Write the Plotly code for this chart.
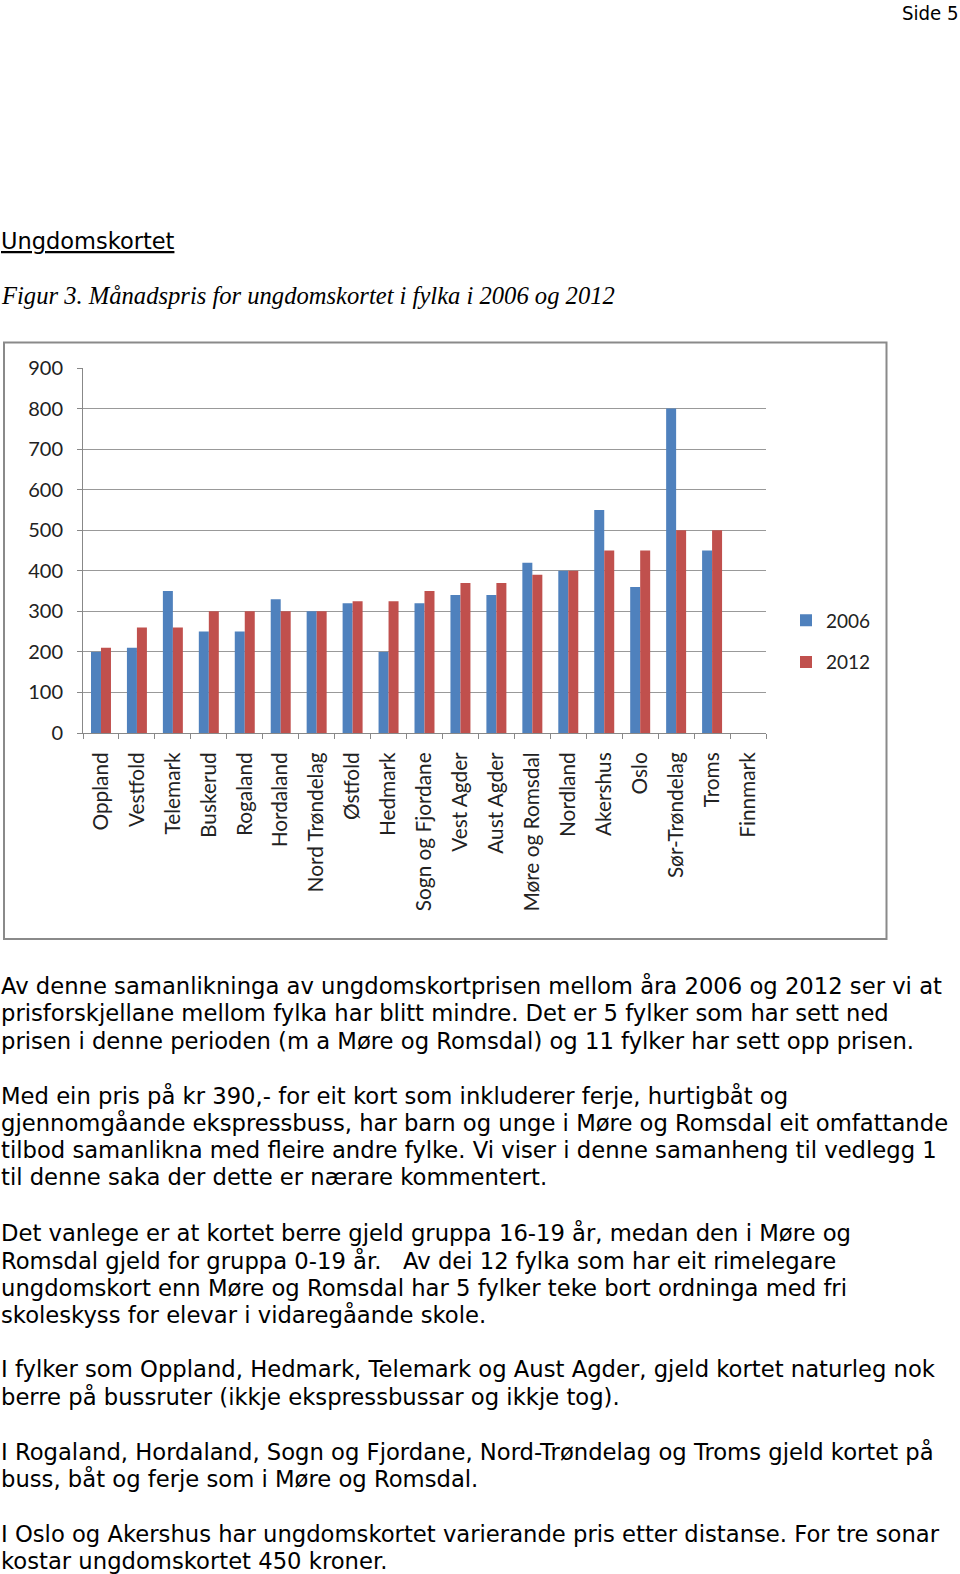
import plotly.graph_objects as go

counties = ["Oppland", "Vestfold", "Telemark", "Buskerud", "Rogaland", "Hordaland",
            "Nord Trøndelag", "Østfold", "Hedmark", "Sogn og Fjordane", "Vest Agder",
            "Aust Agder", "Møre og Romsdal", "Nordland", "Akershus", "Oslo",
            "Sør-Trøndelag", "Troms", "Finnmark"]
price_2006 = [200, 210, 350, 250, 250, 330, 300, 320, 200, 320, 340, 340, 420, 400, 550, 360, 800, 450, None]
price_2012 = [210, 260, 260, 300, 300, 300, 300, 325, 325, 350, 370, 370, 390, 400, 450, 450, 500, 500, None]
y_ticks = [0, 100, 200, 300, 400, 500, 600, 700, 800, 900]

W, H = 960, 1574

def py(px):
    return 1 - px / H

def px_x(px):
    return px / W

fig = go.Figure()
fig.add_trace(go.Bar(name="2006", x=counties, y=price_2006, marker_color="#4F81BD",
                     marker_line_width=0, legendgroup="a"))
fig.add_trace(go.Bar(name="2012", x=counties, y=price_2012, marker_color="#C0504D",
                     marker_line_width=0, legendgroup="b"))

chart_font = "Lato, 'Open Sans', sans-serif"
body_font = "'DejaVu Sans', Verdana, sans-serif"

fig.update_layout(
    width=W, height=H,
    margin=dict(l=0, r=0, t=0, b=0, autoexpand=False),
    paper_bgcolor="white", plot_bgcolor="white",
    barmode="group", bargap=0.444, bargroupgap=0,
    showlegend=True,
    legend=dict(x=px_x(786), y=py(601.5), xanchor="left", yanchor="top",
                font=dict(family=chart_font, size=19, color="#222"),
                itemwidth=30,
                tracegroupgap=14, traceorder="grouped", bgcolor="rgba(0,0,0,0)"),
    xaxis=dict(domain=[px_x(83), px_x(766)], anchor="y", automargin=False,
               tickangle=-90, tickson="boundaries", ticks="outside", ticklen=5,
               tickcolor="#888", showline=True, linecolor="#888", linewidth=1,
               ticklabelstandoff=10,
               tickfont=dict(family=chart_font, size=20.8, color="#222"),
               showgrid=False, fixedrange=True),
    yaxis=dict(domain=[py(733), py(368)], range=[0, 900], tickvals=y_ticks,
               automargin=False,
               ticks="outside", ticklen=5, tickcolor="#888",
               showline=True, linecolor="#888", linewidth=1,
               ticklabelstandoff=10,
               showgrid=True, gridcolor="#999", gridwidth=1,
               tickfont=dict(family=chart_font, size=20, color="#222"),
               zeroline=False),
)

# chart frame
fig.add_shape(type="rect", xref="paper", yref="paper",
              x0=px_x(4), x1=px_x(886.5), y0=py(939), y1=py(342.5),
              line=dict(color="#8a8a8a", width=2), fillcolor="rgba(0,0,0,0)", layer="below")

def add_text(txt, x_px, y_px, family, size, xanchor="left", yanchor="middle"):
    fig.add_annotation(text=txt, xref="paper", yref="paper",
                       x=px_x(x_px), y=py(y_px), xanchor=xanchor, yanchor=yanchor,
                       showarrow=False, font=dict(family=family, size=size, color="#000"),
                       align="left", borderpad=0)

add_text("Side 5", 960, 0, "'DejaVu Sans Condensed', 'DejaVu Sans', sans-serif", 20.2,
         xanchor="right", yanchor="top")
add_text("<u>Ungdomskortet</u>", 0, 241, "'DejaVu Sans', sans-serif", 22.5)
add_text("<i>Figur 3. Månadspris for ungdomskortet i fylka i 2006 og 2012</i>", 0, 296,
         "'Liberation Serif', serif", 24.6)

paragraphs = [
    (985.8, ["Av denne samanlikninga av ungdomskortprisen mellom åra 2006 og 2012 ser vi at",
             "prisforskjellane mellom fylka har blitt mindre. Det er 5 fylker som har sett ned",
             "prisen i denne perioden (m a Møre og Romsdal) og 11 fylker har sett opp prisen."]),
    (1095.2, ["Med ein pris på kr 390,- for eit kort som inkluderer ferje, hurtigbåt og",
              "gjennomgåande ekspressbuss, har barn og unge i Møre og Romsdal eit omfattande",
              "tilbod samanlikna med fleire andre fylke. Vi viser i denne samanheng til vedlegg 1",
              "til denne saka der dette er nærare kommentert."]),
    (1232.7, ["Det vanlege er at kortet berre gjeld gruppa 16-19 år, medan den i Møre og",
              "Romsdal gjeld for gruppa 0-19 år.   Av dei 12 fylka som har eit rimelegare",
              "ungdomskort enn Møre og Romsdal har 5 fylker teke bort ordninga med fri",
              "skoleskyss for elevar i vidaregåande skole."]),
    (1369.2, ["I fylker som Oppland, Hedmark, Telemark og Aust Agder, gjeld kortet naturleg nok",
              "berre på bussruter (ikkje ekspressbussar og ikkje tog)."]),
    (1451.5, ["I Rogaland, Hordaland, Sogn og Fjordane, Nord-Trøndelag og Troms gjeld kortet på",
              "buss, båt og ferje som i Møre og Romsdal."]),
    (1533.8, ["I Oslo og Akershus har ungdomskortet varierande pris etter distanse. For tre sonar",
              "kostar ungdomskortet 450 kroner."]),
]
for y0, lines in paragraphs:
    for i, line in enumerate(lines):
        add_text(line, 0, y0 + i * 27.4, body_font, 22.7)

fig.write_html("out.html")
